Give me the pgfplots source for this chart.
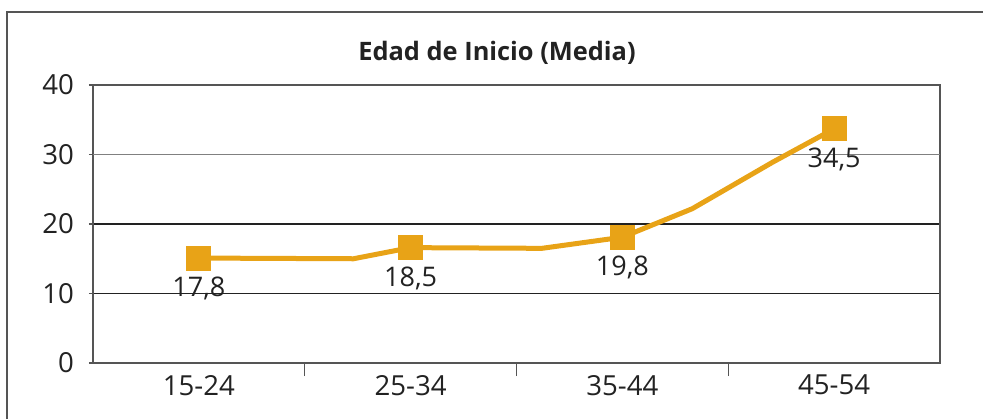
\documentclass[border=0pt]{standalone}
\usepackage{fontspec}
\setmainfont{Open Sans}
\usepackage{pgfplots}
\pgfplotsset{compat=1.18}
\definecolor{linea}{HTML}{E8A317}
\definecolor{eje}{HTML}{555555}
\definecolor{texto}{HTML}{222222}
\begin{document}
\begin{tikzpicture}[x=1pt,y=1pt]
\path[use as bounding box] (0,0) rectangle (491.5,209.5);
\draw[eje, line width=1pt] (3.5,0) -- (3.5,203.5) -- (491.5,203.5);
\node[font=\bfseries\fontsize{12.7}{14}\selectfont, text=texto] at (248.5,183) {Edad de Inicio (Media)};
\begin{axis}[
    at={(46.5pt,28pt)}, anchor=south west,
    scale only axis, width=423.5pt, height=139pt,
    xmin=-0.5, xmax=3.5, ymin=0, ymax=40,
    xtick={0,1,2,3},
    xticklabels={15-24,25-34,35-44,45-54},
    minor xtick={0.5,1.5,2.5},
    major x tick style={draw=none},
    tick pos=left,
    ytick={0,10,20,40},
    extra y ticks={30},
    extra y tick style={major grid style={gray, line width=0.7pt}},
    ymajorgrids,
    major grid style={texto, line width=0.7pt},
    tick align=outside,
    major tick length=2pt, minor tick length=6.5pt,
    tick style={eje, line width=0.6pt},
    axis line style={eje, line width=0.6pt},
    x tick label style={yshift=-0.5pt},
    ticklabel style={font=\fontsize{13.8}{15}\selectfont, text=texto},
    y tick label style={xshift=-4pt},
    /pgf/number format/assume math mode=true,
    clip=false,
]
\addplot[linea, line width=2.5pt, line join=round] coordinates {
    (0,15.1) (0.73,15.0) (1,16.6) (1.62,16.5) (2,18.1) (2.33,22.2) (2.71,28.9) (3,33.7)
};
\addplot[linea, only marks, mark=square*, mark size=6pt, mark options={fill=linea, draw=linea},
    nodes near coords, point meta=explicit symbolic,
    every node near coord/.append style={anchor=north, yshift=-6pt, text=texto,
        font=\fontsize{13.5}{15}\selectfont}]
coordinates {
    (0,15.1) [17,8]
    (1,16.6) [18,5]
    (2,18.1) [19,8]
    (3,33.7) [34,5]
};
\end{axis}
\end{tikzpicture}
\end{document}
